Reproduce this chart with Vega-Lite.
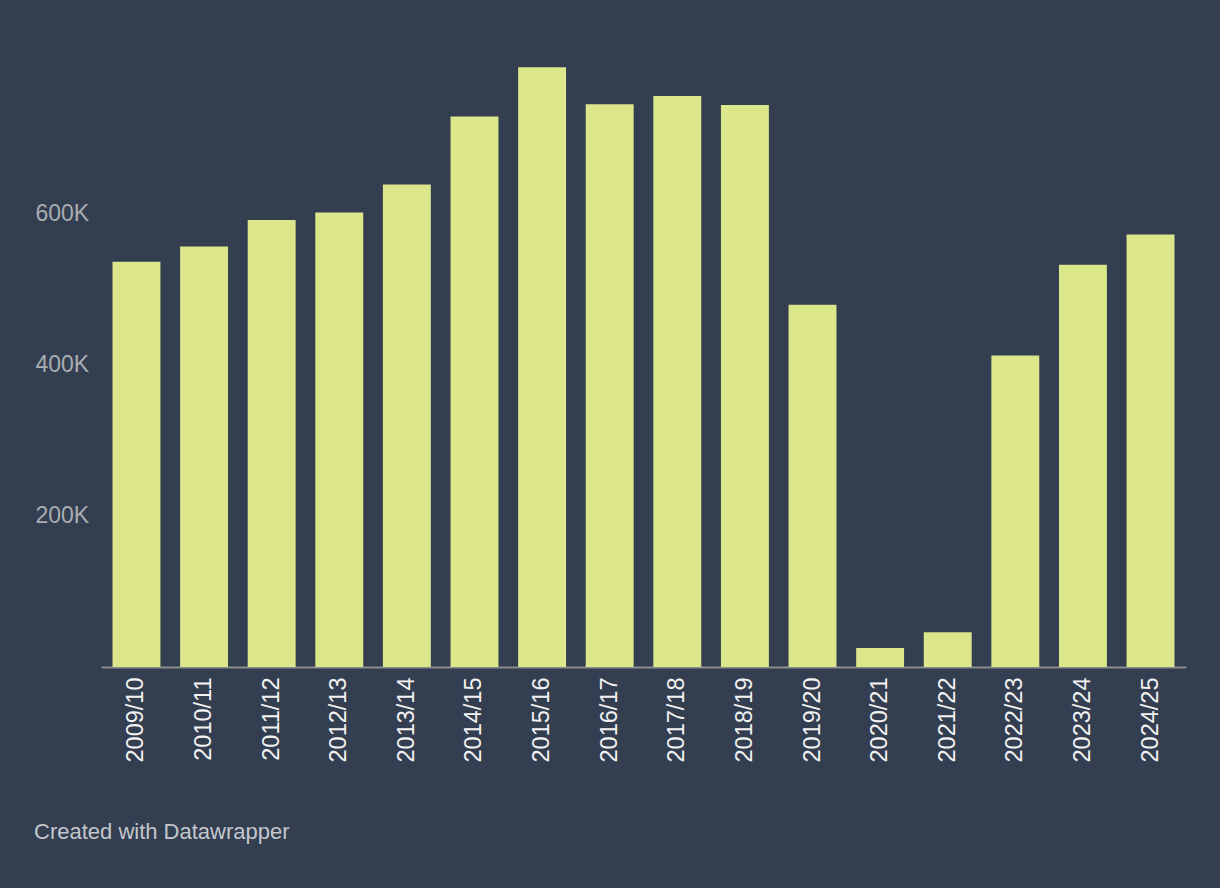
{
  "$schema": "https://vega.github.io/schema/vega-lite/v6.json",
  "autosize": {"type": "none"},
  "padding": {"left": 101, "top": 62, "right": 34, "bottom": 221},
  "width": 1085,
  "height": 605,
  "background": "#333e50",
  "config": {
    "view": {"stroke": null},
    "font": "Liberation Sans"
  },
  "title": {
    "text": "Created with Datawrapper",
    "orient": "bottom",
    "anchor": "start",
    "frame": "group",
    "dx": -67,
    "offset": 60,
    "fontSize": 22,
    "fontWeight": "normal",
    "color": "#c4c7cc",
    "font": "Liberation Sans"
  },
  "data": {
    "values": [
      {"season": "2009/10", "value": 536000},
      {"season": "2010/11", "value": 556000},
      {"season": "2011/12", "value": 591000},
      {"season": "2012/13", "value": 601000},
      {"season": "2013/14", "value": 638000},
      {"season": "2014/15", "value": 728000},
      {"season": "2015/16", "value": 793000},
      {"season": "2016/17", "value": 744000},
      {"season": "2017/18", "value": 755000},
      {"season": "2018/19", "value": 743000},
      {"season": "2019/20", "value": 479000},
      {"season": "2020/21", "value": 25000},
      {"season": "2021/22", "value": 46000},
      {"season": "2022/23", "value": 412000},
      {"season": "2023/24", "value": 532000},
      {"season": "2024/25", "value": 572000}
    ]
  },
  "mark": {"type": "bar", "color": "#dce78b"},
  "encoding": {
    "x": {
      "field": "season",
      "type": "nominal",
      "sort": null,
      "scale": {"paddingInner": 0.291, "paddingOuter": 0.17},
      "axis": {
        "title": null,
        "labelAngle": -90,
        "labelAlign": "right",
        "labelBaseline": "middle",
        "labelPadding": 10,
        "labelFontSize": 23.5,
        "labelColor": "#f2f2f2",
        "labelFont": "Liberation Sans",
        "ticks": false,
        "domainColor": "#8c8c8c",
        "domainWidth": 2,
        "grid": false
      }
    },
    "y": {
      "field": "value",
      "type": "quantitative",
      "scale": {"domain": [0, 800000], "nice": false},
      "axis": {
        "title": null,
        "values": [200000, 400000, 600000],
        "labelExpr": "datum.value / 1000 + 'K'",
        "labelAlign": "left",
        "labelBaseline": "middle",
        "labelPadding": 66,
        "labelFontSize": 23,
        "labelColor": "#a9adb3",
        "labelFont": "Liberation Sans",
        "ticks": false,
        "domain": false,
        "grid": false
      }
    }
  }
}
